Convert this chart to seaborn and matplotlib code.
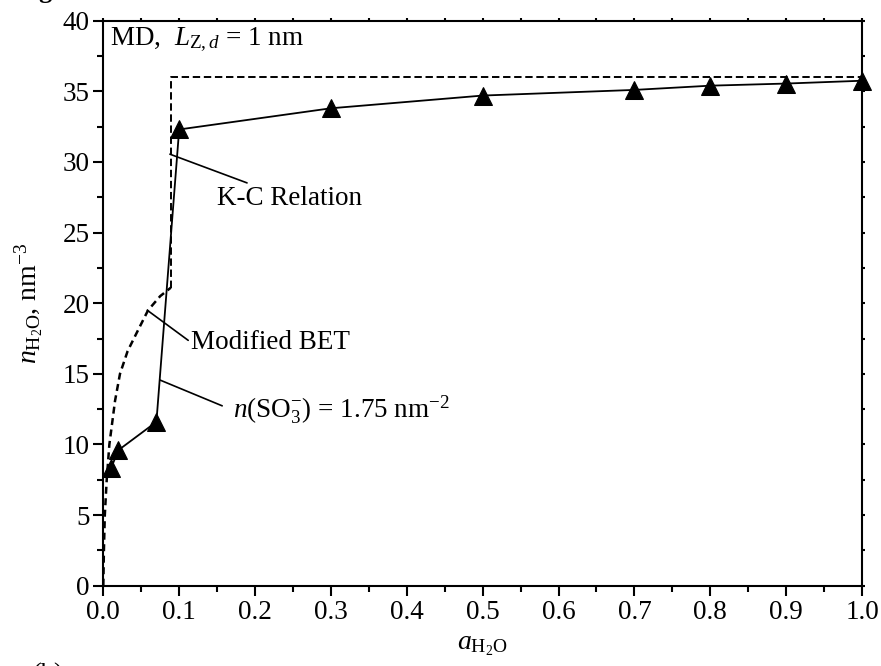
import matplotlib
matplotlib.use("Agg")
import matplotlib.pyplot as plt
import seaborn as sns
import pandas as pd
import numpy as np
from matplotlib.ticker import MultipleLocator

# ---- data ----
md_x = [0.01, 0.02, 0.07, 0.10, 0.30, 0.50, 0.70, 0.80, 0.90, 1.00]
md_y = [8.3, 9.6, 11.6, 32.3, 33.8, 34.7, 35.1, 35.4, 35.55, 35.75]

kc_x = [0.089, 0.089, 1.00]
kc_y = [21.1, 36.0, 36.0]

bet_x = [0.0, 0.0008, 0.002, 0.0045, 0.008, 0.0155, 0.022, 0.032, 0.044, 0.059, 0.075, 0.089]
bet_y = [0.0, 2.5, 5.0, 7.5, 10.0, 13.1, 15.0, 16.6, 17.9, 19.5, 20.5, 21.1]

x_ticks = [0.0, 0.1, 0.2, 0.3, 0.4, 0.5, 0.6, 0.7, 0.8, 0.9, 1.0]
y_ticks = [0, 5, 10, 15, 20, 25, 30, 35, 40]

sns.set_style("ticks")
plt.rcParams['font.family'] = ['Liberation Serif', 'DejaVu Serif']
plt.rcParams['mathtext.fontset'] = 'custom'
plt.rcParams['mathtext.rm'] = 'Liberation Serif'
plt.rcParams['mathtext.it'] = 'Liberation Serif:italic'
plt.rcParams['mathtext.bf'] = 'Liberation Serif:bold'
for k in ['text.color', 'axes.labelcolor', 'xtick.color', 'ytick.color', 'axes.edgecolor']:
    plt.rcParams[k] = 'black'

W, H = 881, 666
fig = plt.figure(figsize=(W / 100, H / 100), dpi=100)
ax = fig.add_axes([103.3 / W, 1 - 585.7 / H, (862 - 103.3) / W, (585.7 - 20.7) / H])

df_md = pd.DataFrame({"x": md_x, "y": md_y})
df_kc = pd.DataFrame({"x": kc_x, "y": kc_y})
df_bet = pd.DataFrame({"x": bet_x, "y": bet_y})

sns.lineplot(data=df_kc, x="x", y="y", sort=False, estimator=None, ax=ax, color="black",
             lw=1.4, linestyle=(0, (3.8, 1.9)), zorder=2)
sns.lineplot(data=df_bet, x="x", y="y", sort=False, estimator=None, ax=ax, color="black",
             lw=1.8, linestyle=(0, (2.8, 1.8)), zorder=2)
sns.lineplot(data=df_md, x="x", y="y", sort=False, estimator=None, ax=ax, color="black",
             lw=1.3, marker="^", markersize=13, markeredgecolor="black",
             markerfacecolor="black", zorder=3, clip_on=False)

ax.set_xlim(0, 1.0)
ax.set_ylim(0, 40)
ax.set_xticks(x_ticks)
ax.set_xticklabels([f"{v:.1f}" for v in x_ticks])
ax.set_yticks(y_ticks)
ax.set_yticklabels([str(v) for v in y_ticks])
ax.xaxis.set_minor_locator(MultipleLocator(0.05))
ax.yaxis.set_minor_locator(MultipleLocator(2.5))

for s in ax.spines.values():
    s.set_linewidth(1.5)
    s.set_color("black")

fs = 19.5
ax.tick_params(axis="both", which="major", direction="out", length=7, width=1.5,
               labelsize=fs, colors="black", pad=3)
ax.tick_params(axis="both", which="minor", direction="out", length=4, width=1.5)
ax.tick_params(axis="x", which="both", top=True, labeltop=False)
ax.tick_params(axis="y", which="both", right=True, labelright=False)
for t in ax.xaxis.get_major_ticks() + ax.xaxis.get_minor_ticks():
    t.tick2line.set_markersize(2)
for t in ax.yaxis.get_major_ticks() + ax.yaxis.get_minor_ticks():
    t.tick2line.set_markersize(2)

ax.set_xlabel(r"$\mathit{a}_{\mathrm{H_2O}}$", fontsize=20, labelpad=6)
ax.set_ylabel(r"$\mathit{n}_{\mathrm{H_2O}}$, nm$^{-3}$", fontsize=20, labelpad=12)

ax.text(0.009, 38.3, r"MD,  $\mathit{L}_{\mathrm{Z},\mathit{d}}$ = 1 nm", fontsize=fs,
        ha="left", va="baseline")

ax.annotate("K-C Relation", xy=(0.0878, 30.55), xytext=(0.245, 27.4),
            fontsize=fs, ha="center", va="center",
            arrowprops=dict(arrowstyle="-", color="black", lw=1.2,
                            shrinkA=0, shrinkB=0, relpos=(0.27, 1.0)))
ax.annotate("Modified BET", xy=(0.058, 19.5), xytext=(0.221, 17.2),
            fontsize=fs, ha="center", va="center",
            arrowprops=dict(arrowstyle="-", color="black", lw=1.2,
                            shrinkA=0, shrinkB=0, relpos=(0.0, 0.5)))
ax.annotate(r"$\mathit{n}(\mathrm{SO_3^{-}})$ = 1.75 nm$^{-2}$", xy=(0.0747, 14.56),
            xytext=(0.171, 12.5), fontsize=fs, ha="left", va="center",
            arrowprops=dict(arrowstyle="-", color="black", lw=1.2,
                            shrinkA=0, shrinkB=0, relpos=(-0.05, 0.6)))

fig.text(33 / W, 1 - 663 / H, "(b)", fontsize=19, ha="left", va="top")
fig.text(38 / W, 1 + 1.5 / H, "g", fontsize=19, fontweight="bold", ha="left", va="baseline")

fig.savefig("out.png", dpi=100)
